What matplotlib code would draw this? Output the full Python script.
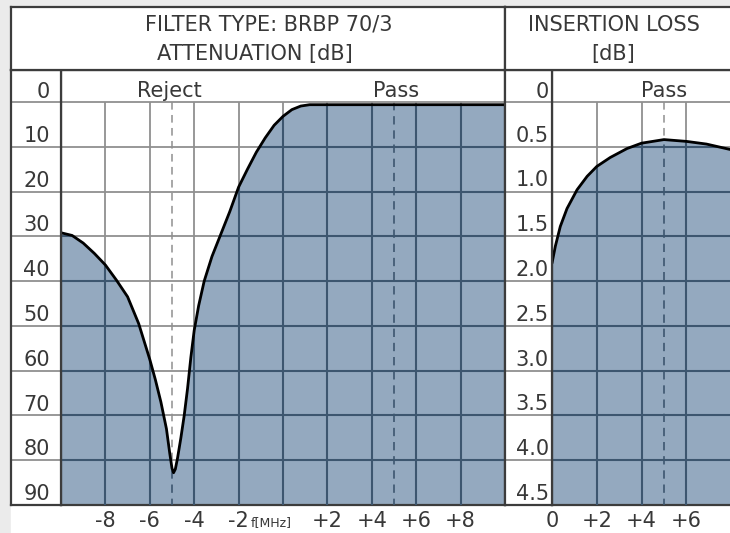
import numpy as np
import matplotlib
matplotlib.use("Agg")
import matplotlib.pyplot as plt
from matplotlib.patches import Rectangle

plt.rcParams["font.family"] = ["DejaVu Sans"]

# ------------------------------------------------------------------ #
#  Data (BRBP 70/3)
# ------------------------------------------------------------------ #
# attenuation vs offset frequency [MHz], [dB]
att_freq = [-10, -9.5, -9, -8.5, -8, -7.5, -7, -6.5, -6, -5.75, -5.5, -5.25,
            -5.1, -5.0, -4.93, -4.85, -4.75, -4.6, -4.45, -4.3, -4.15, -4.0,
            -3.8, -3.55, -3.2, -2.8, -2.4, -2.0, -1.6, -1.2, -0.8, -0.4, 0,
            0.4, 0.8, 1.2, 10]
att_db = [29.2, 29.8, 31.5, 33.8, 36.4, 39.8, 43.5, 49.5, 57.5, 62, 67, 73,
          78.5, 81.8, 82.8, 82, 79.5, 75, 70, 64, 57, 51,
          45.5, 40, 34.5, 29.5, 24.5, 19, 15, 11.2, 8, 5.2, 3.2,
          1.7, 0.9, 0.6, 0.6]

# insertion loss in the pass band
loss_freq = [0.0, 0.15, 0.37, 0.67, 1.12, 1.57, 2.0, 2.6, 3.35, 4.0, 5.0,
             6.0, 6.9, 7.95]
loss_db = [1.80, 1.61, 1.39, 1.19, 0.98, 0.83, 0.72, 0.62, 0.52, 0.46, 0.42,
           0.44, 0.47, 0.53]

att_levels = [0, 10, 20, 30, 40, 50, 60, 70, 80, 90]
att_labels = ["0", "10", "20", "30", "40", "50", "60", "70", "80", "90"]
loss_levels = [0, 0.5, 1.0, 1.5, 2.0, 2.5, 3.0, 3.5, 4.0, 4.5]
loss_labels = ["0", "0.5", "1.0", "1.5", "2.0", "2.5", "3.0", "3.5", "4.0", "4.5"]

att_xticks = [-8, -6, -4, -2, 2, 4, 6, 8]
att_xlabels = ["-8", "-6", "-4", "-2", "+2", "+4", "+6", "+8"]
loss_xticks = [0, 2, 4, 6]
loss_xlabels = ["0", "+2", "+4", "+6"]

FILL = "#94a9bf"
GRID_LIGHT = "#909090"
GRID_DARK = "#3d566f"
EDGE = "#3c3c3c"
TXT = "#383838"
FS = 15
DASH = (0, (5, 3.5))

W, H = 730, 533


def box(x0, y0, x1, y1):
    # pixel box (top-left origin) -> figure fraction rect
    return [x0 / W, 1 - y1 / H, (x1 - x0) / W, (y1 - y0) / H]


def frame(ax, right=True):
    ax.set_xticks([])
    ax.set_yticks([])
    for sp in ax.spines.values():
        sp.set_color(EDGE)
        sp.set_linewidth(1.6)
    if not right:
        ax.spines["right"].set_visible(False)


def panel(ax, freq, vals, xlim, ylim, hlevels, vlevels, dashed):
    ax.set_xlim(*xlim)
    ax.set_ylim(*ylim)
    bottom = ylim[0]
    # light grid under the fill
    ax.hlines(hlevels, xlim[0], xlim[1], color=GRID_LIGHT, lw=1.3, zorder=1)
    ax.vlines(vlevels, 0, bottom, color=GRID_LIGHT, lw=1.3, zorder=1)
    ax.vlines(dashed, 0, bottom, color=GRID_LIGHT, lw=1.1,
              linestyles=DASH, zorder=1)
    fill = ax.fill_between(freq, vals, bottom, color=FILL, lw=0, zorder=2)
    clip = fill.get_paths()[0]
    # darker grid only where it sits on the fill
    dark = [
        ax.hlines(hlevels, xlim[0], xlim[1], color=GRID_DARK, lw=1.5, zorder=3),
        ax.vlines(vlevels, 0, bottom, color=GRID_DARK, lw=1.5, zorder=3),
        ax.vlines(dashed, 0, bottom, color=GRID_DARK, lw=1.2,
                  linestyles=DASH, zorder=3),
    ]
    for coll in dark:
        coll.set_clip_path(clip, ax.transData)
    ax.plot(freq, vals, color="black", lw=2.0, zorder=4,
            solid_capstyle="round", solid_joinstyle="round")


def label_column(ax, ylim, levels, labels, xpos, offset, top_pos):
    ax.set_xlim(0, 1)
    ax.set_ylim(*ylim)
    ax.hlines(levels[:-1], 0, 1, color=GRID_LIGHT, lw=1.3)
    for i, (lv, lb) in enumerate(zip(levels, labels)):
        y = top_pos if i == 0 else lv - offset
        ax.text(xpos, y, lb, ha="right", va="baseline", fontsize=FS, color=TXT)


fig = plt.figure(figsize=(7.3, 5.33), dpi=100, facecolor="#ebebeb")
fig.add_artist(Rectangle((11 / W, 0), 1 - 11 / W, 1 - 7 / H,
                         transform=fig.transFigure, color="white", zorder=-5))

# ---------------- attenuation panel ---------------- #
att_ylim = (90, -7.15)
ax1 = fig.add_axes(box(61, 70, 505, 505))
frame(ax1)
panel(ax1, att_freq, att_db, (-10, 10), att_ylim, att_levels[:-1],
      [-8, -6, -4, -2, 0, 2, 4, 6, 8], [-5, 5])
ax1.set_xticks(att_xticks, att_xlabels)
ax1.tick_params(axis="x", length=0, pad=4, labelsize=FS, colors=TXT)
ax1.text(-0.55, -0.04, "f[MHz]", transform=ax1.get_xaxis_transform(),
         ha="center", va="center", fontsize=9, color=TXT)
ax1.text(-5.1, -1.2, "Reject", ha="center", va="baseline", fontsize=FS, color=TXT)
ax1.text(5.1, -1.2, "Pass", ha="center", va="baseline", fontsize=FS, color=TXT)

axL = fig.add_axes(box(11, 70, 61, 505))
frame(axL)
label_column(axL, att_ylim, att_levels, att_labels, 0.78, 1.1, -0.8)

axH = fig.add_axes(box(11, 7, 505, 70))
frame(axH)
axH.text(0.521, 0.62, "FILTER TYPE: BRBP 70/3", transform=axH.transAxes,
         ha="center", va="baseline", fontsize=FS, color=TXT)
axH.text(0.493, 0.16, "ATTENUATION [dB]", transform=axH.transAxes,
         ha="center", va="baseline", fontsize=FS, color=TXT)

# ---------------- insertion loss panel ---------------- #
loss_ylim = (4.5, -0.357)
ax2 = fig.add_axes(box(552, 70, 730, 505))
frame(ax2, right=False)
panel(ax2, loss_freq, loss_db, (0, 7.95), loss_ylim, loss_levels[:-1],
      [2, 4, 6], [5])
ax2.set_xticks(loss_xticks, loss_xlabels)
ax2.tick_params(axis="x", length=0, pad=4, labelsize=FS, colors=TXT)
ax2.text(5, -0.06, "Pass", ha="center", va="baseline", fontsize=FS, color=TXT)

axR = fig.add_axes(box(505, 70, 552, 505))
frame(axR)
label_column(axR, loss_ylim, loss_levels, loss_labels, 0.93, 0.057, -0.045)

axHR = fig.add_axes(box(505, 7, 730, 70))
frame(axHR, right=False)
axHR.text(0.482, 0.62, "INSERTION LOSS", transform=axHR.transAxes,
          ha="center", va="baseline", fontsize=FS, color=TXT)
axHR.text(0.482, 0.16, "[dB]", transform=axHR.transAxes,
          ha="center", va="baseline", fontsize=FS, color=TXT)

fig.savefig("out.png", dpi=100, facecolor=fig.get_facecolor())
